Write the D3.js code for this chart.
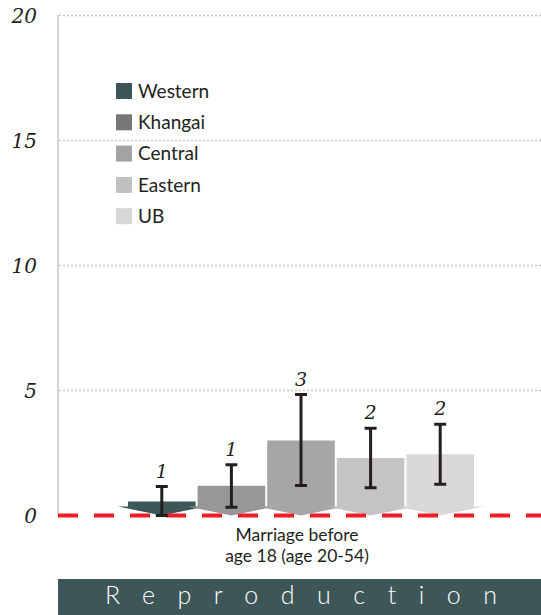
<!DOCTYPE html>
<html>
<head>
<meta charset="utf-8">
<script src="https://cdn.jsdelivr.net/npm/d3@7"></script>
<style>
  html, body { margin: 0; padding: 0; background: #fff; }
  svg { display: block; }
  text { font-variant-ligatures: none; font-feature-settings: "liga" 0; }
</style>
</head>
<body>
<svg id="chart" width="541" height="615"></svg>
<script>
// ---- data ----
const categories = ["Marriage before|age 18 (age 20-54)"];
const regions = ["Western", "Khangai", "Central", "Eastern", "UB"];
const values = [0.56, 1.19, 3.0, 2.3, 2.45];
const lower = [0.0, 0.33, 1.2, 1.11, 1.25];
const upper = [1.16, 2.03, 4.84, 3.49, 3.65];
const yTicks = [0, 5, 10, 15, 20];
const bannerText = "Reproduction";

// ---- styles ----
const legendColors = ["#3d5657", "#767676", "#a4a3a3", "#c3c0c0", "#d8d7d6"];
const barColors = ["#3d5657", "#979797", "#a7a6a6", "#c6c3c3", "#d9d8d7"];
const serif = "'DejaVu Serif', serif";
const sans = "Lato, 'Open Sans', sans-serif";

const svg = d3.select("#chart");
const plotL = 58, plotR = 541;

const y = d3.scaleLinear().domain([0, 20]).range([515.5, 15.5]);
const x0 = d3.scaleBand().domain(categories).range([plotL, plotR + 3]);
const groupC = x0(categories[0]) + x0.bandwidth() / 2;
const x1 = d3.scaleBand().domain(regions).range([groupC - 174, groupC + 174]).padding(0);
const barW = x1.bandwidth() - 2;

// gridlines
svg.append("g").selectAll("line").data(yTicks.filter(t => t > 0)).join("line")
  .attr("x1", plotL + 1).attr("x2", plotR)
  .attr("y1", d => y(d)).attr("y2", d => y(d))
  .attr("stroke", "#c8c8c8").attr("stroke-width", 1.5).attr("stroke-dasharray", "2,2");

// vertical axis line
svg.append("line").attr("x1", plotL).attr("x2", plotL)
  .attr("y1", y(20) - 0.5).attr("y2", y(0))
  .attr("stroke", "#d3d3d3").attr("stroke-width", 2);

// y tick labels
svg.append("g").selectAll("text").data(yTicks).join("text")
  .attr("x", 37).attr("y", d => y(d)).attr("dy", "0.36em")
  .attr("text-anchor", "end")
  .attr("font-family", serif).attr("font-style", "italic").attr("font-size", 20)
  .attr("fill", "#231f20").text(d => d);

// bars with chevron bottoms
const ext = 10, depth = 9;
svg.append("g").selectAll("path").data(regions).join("path")
  .attr("fill", (d, i) => barColors[i])
  .attr("d", (d, i) => {
    const c = x1(d) + x1.bandwidth() / 2;
    const a = c - barW / 2, b = c + barW / 2;
    const top = y(values[i]), base = y(0), yb = base - depth;
    return `M${a},${top}L${b},${top}L${b},${yb}L${b + ext},${yb}L${c},${base}L${a - ext},${yb}L${a},${yb}Z`;
  });

// red dashed baseline
svg.append("line").attr("x1", plotL).attr("x2", plotR)
  .attr("y1", y(0)).attr("y2", y(0))
  .attr("stroke", "#ee1c25").attr("stroke-width", 4).attr("stroke-dasharray", "20,16");

// error bars
const eb = svg.append("g").attr("stroke", "#231f20").attr("stroke-width", 3);
regions.forEach((d, i) => {
  const c = x1(d) + x1.bandwidth() / 2;
  eb.append("line").attr("x1", c).attr("x2", c).attr("y1", y(upper[i])).attr("y2", y(lower[i]));
  eb.append("line").attr("x1", c - 6).attr("x2", c + 6).attr("y1", y(upper[i])).attr("y2", y(upper[i]));
  eb.append("line").attr("x1", c - 6).attr("x2", c + 6).attr("y1", y(lower[i])).attr("y2", y(lower[i]));
});

// value labels
svg.append("g").selectAll("text").data(regions).join("text")
  .attr("x", d => x1(d) + x1.bandwidth() / 2)
  .attr("y", (d, i) => y(upper[i]) - 9)
  .attr("text-anchor", "middle")
  .attr("font-family", serif).attr("font-style", "italic").attr("font-size", 19)
  .attr("fill", "#231f20")
  .text((d, i) => d3.format(".0f")(values[i]));

// category label
const cl = svg.append("text").attr("text-anchor", "middle")
  .attr("font-family", sans).attr("font-size", 17.5).attr("fill", "#231f20");
categories[0].split("|").forEach((ln, k) => {
  cl.append("tspan").attr("x", groupC - 4).attr("y", 541 + k * 21).text(ln);
});

// legend
const lg = svg.append("g");
regions.forEach((d, i) => {
  const cy = 91 + i * 31.3;
  lg.append("rect").attr("x", 116).attr("y", cy - 8).attr("width", 16).attr("height", 16)
    .attr("fill", legendColors[i]);
  lg.append("text").attr("x", 138).attr("y", cy).attr("dy", "0.36em")
    .attr("font-family", sans).attr("font-size", 19).attr("fill", "#231f20").text(d);
});

// banner
svg.append("rect").attr("x", plotL).attr("y", 579).attr("width", plotR - plotL).attr("height", 36)
  .attr("fill", "#3d5657");
svg.append("text").attr("x", 105).attr("y", 604)
  .attr("font-family", sans).attr("font-size", 25).attr("font-weight", 300).attr("fill", "#ffffff")
  .attr("textLength", 392).attr("lengthAdjust", "spacing")
  .text(bannerText);
</script>
</body>
</html>
